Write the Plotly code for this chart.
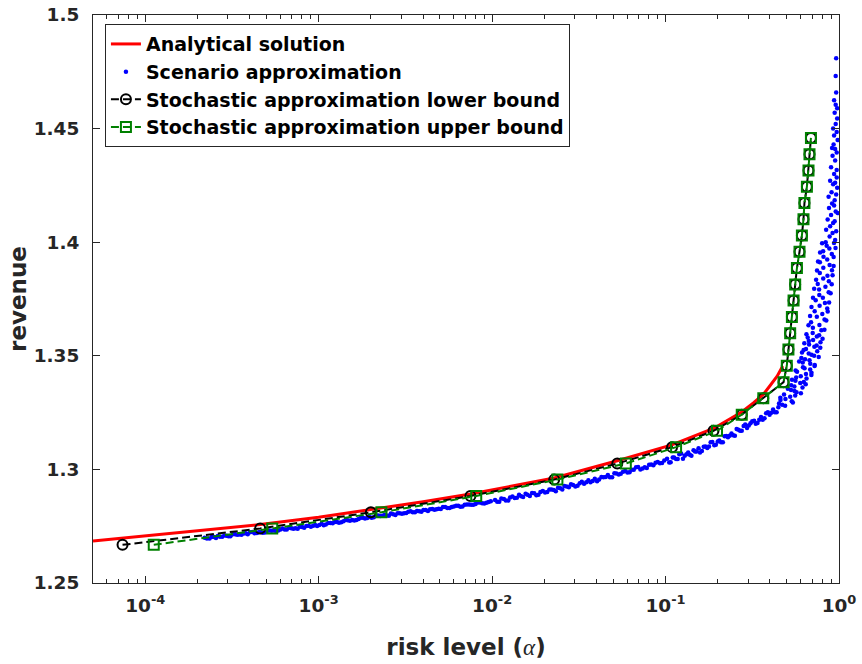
import math
import plotly.graph_objects as go

# ---------------- data ----------------
# Analytical solution (red curve)
ana_alpha = [5e-5, 1e-4, 2e-4, 4.6e-4, 1.0e-3, 2.0e-3, 4.0e-3, 7.5e-3, 0.0228, 0.0527,
             0.1087, 0.189, 0.275, 0.321, 0.366, 0.40, 0.44, 0.474]
ana_rev = [1.2685, 1.2707, 1.2729, 1.2757, 1.2789, 1.2822, 1.2858, 1.2892, 1.2962, 1.3038,
           1.3108, 1.3180, 1.3253, 1.3293, 1.3330, 1.3368, 1.3410, 1.3455]

# Stochastic approximation bounds (same revenue levels)
bound_rev = [1.2668, 1.2740, 1.2811, 1.2883, 1.2955, 1.3026, 1.3098, 1.3170, 1.3241, 1.3313,
             1.3384, 1.3456, 1.3528, 1.3599, 1.3671, 1.3743, 1.3814, 1.3886, 1.3958, 1.4029,
             1.4101, 1.4172, 1.4244, 1.4316, 1.4387, 1.4459]
lb_alpha = [7.4e-5, 4.6e-4, 2.0e-3, 7.5e-3, 0.0228, 0.0527, 0.109, 0.189, 0.275, 0.366,
            0.479, 0.500, 0.511, 0.523, 0.535, 0.547, 0.559, 0.572, 0.592, 0.611,
            0.624, 0.632, 0.653, 0.667, 0.676, 0.689]
ub_alpha = [1.12e-4, 5.4e-4, 2.3e-3, 8.1e-3, 0.0238, 0.059, 0.115, 0.198, 0.275, 0.366,
            0.479, 0.500, 0.511, 0.523, 0.535, 0.547, 0.559, 0.572, 0.592, 0.611,
            0.624, 0.632, 0.653, 0.667, 0.676, 0.689]

# Scenario approximation (blue dots) in pieces
scen_alpha_a = [2.2e-4, 2.35e-4, 2.5e-4, 2.62e-4, 2.78e-4, 2.95e-4, 3.1e-4, 3.3e-4, 3.48e-4, 3.7e-4,
                3.9e-4, 4.15e-4, 4.4e-4, 4.62e-4, 4.9e-4, 5.2e-4, 5.5e-4, 5.85e-4, 6.2e-4, 6.55e-4,
                6.95e-4, 7.35e-4, 7.8e-4, 8.25e-4, 8.75e-4, 9.3e-4, 9.8e-4, 1.04e-3, 1.1e-3, 1.17e-3,
                1.24e-3, 1.31e-3, 1.39e-3, 1.47e-3, 1.56e-3, 1.65e-3, 1.75e-3, 1.85e-3, 1.96e-3, 2.08e-3,
                2.2e-3, 2.33e-3, 2.47e-3, 2.61e-3, 2.77e-3, 2.93e-3, 3.11e-3, 3.29e-3, 3.49e-3, 3.69e-3,
                3.91e-3, 4.14e-3, 4.39e-3, 4.65e-3, 4.92e-3, 5.21e-3, 5.52e-3, 5.85e-3, 6.2e-3, 6.56e-3,
                6.95e-3, 7.37e-3, 7.8e-3, 8.27e-3, 8.76e-3, 9.28e-3, 9.83e-3]
scen_rev_a = [1.2699, 1.2696, 1.2703, 1.2707, 1.2704, 1.2708, 1.2706, 1.2715, 1.2713, 1.2718,
              1.2715, 1.2725, 1.2720, 1.2725, 1.2722, 1.2731, 1.2731, 1.2731, 1.2740, 1.2735,
              1.2741, 1.2741, 1.2748, 1.2743, 1.2752, 1.2752, 1.2751, 1.2761, 1.2758, 1.2764,
              1.2769, 1.2765, 1.2772, 1.2776, 1.2777, 1.2777, 1.2787, 1.2784, 1.2790, 1.2789,
              1.2797, 1.2796, 1.2797, 1.2806, 1.2799, 1.2807, 1.2807, 1.2814, 1.2811, 1.2817,
              1.2814, 1.2821, 1.2825, 1.2822, 1.2827, 1.2834, 1.2830, 1.2834, 1.2840, 1.2836,
              1.2844, 1.2846, 1.2844, 1.2854, 1.2851, 1.2853, 1.2860]
scen_alpha_a2 = [2.27e-4, 2.42e-4, 2.56e-4, 2.70e-4, 2.86e-4, 3.02e-4, 3.2e-4, 3.39e-4, 3.59e-4, 3.8e-4,
                 4.02e-4, 4.27e-4, 4.51e-4, 4.76e-4, 5.05e-4, 5.35e-4, 5.67e-4, 6.02e-4, 6.37e-4, 6.75e-4,
                 7.15e-4, 7.57e-4, 8.02e-4, 8.5e-4, 9.02e-4, 9.55e-4, 1.01e-3, 1.07e-3, 1.135e-3, 1.205e-3,
                 1.275e-3, 1.35e-3, 1.43e-3, 1.515e-3, 1.605e-3, 1.70e-3, 1.80e-3, 1.905e-3, 2.02e-3, 2.14e-3,
                 2.265e-3, 2.40e-3, 2.54e-3, 2.69e-3, 2.85e-3, 3.02e-3, 3.2e-3, 3.39e-3, 3.59e-3, 3.8e-3,
                 4.02e-3, 4.265e-3, 4.52e-3, 4.78e-3, 5.06e-3, 5.36e-3, 5.68e-3, 6.02e-3, 6.38e-3, 6.75e-3,
                 7.16e-3, 7.58e-3, 8.03e-3, 8.51e-3, 9.02e-3, 9.55e-3]
scen_rev_a2 = [1.2696, 1.2703, 1.2698, 1.2704, 1.2709, 1.2706, 1.2715, 1.2712, 1.2712, 1.2719,
               1.2723, 1.2719, 1.2723, 1.2721, 1.2730, 1.2730, 1.2729, 1.2736, 1.2736, 1.2743,
               1.2739, 1.2739, 1.2747, 1.2751, 1.2748, 1.2755, 1.2755, 1.2754, 1.2764, 1.2763,
               1.2769, 1.2767, 1.2777, 1.2774, 1.2775, 1.2782, 1.2787, 1.2786, 1.2787, 1.2797,
               1.2795, 1.2799, 1.2796, 1.2803, 1.2807, 1.2805, 1.2808, 1.2816, 1.2811, 1.2816,
               1.2821, 1.2817, 1.2826, 1.2825, 1.2826, 1.2835, 1.2830, 1.2837, 1.2840, 1.2837,
               1.2846, 1.2844, 1.2848, 1.2854, 1.2850, 1.2857]

scen_alpha_b = [1.04e-2, 1.10e-2, 1.17e-2, 1.24e-2, 1.31e-2, 1.39e-2, 1.47e-2, 1.56e-2, 1.65e-2, 1.75e-2,
                1.85e-2, 1.96e-2, 2.08e-2, 2.20e-2, 2.33e-2, 2.47e-2, 2.61e-2, 2.77e-2, 2.93e-2, 3.11e-2,
                3.29e-2, 3.49e-2, 3.69e-2, 3.91e-2, 4.14e-2, 4.39e-2, 4.65e-2, 4.92e-2, 5.21e-2, 5.52e-2,
                5.85e-2, 6.20e-2, 6.56e-2, 6.95e-2, 7.37e-2, 7.80e-2, 8.27e-2, 8.76e-2, 9.28e-2, 9.83e-2]
scen_rev_b = [1.2865, 1.2858, 1.2870, 1.2863, 1.2881, 1.2875, 1.2882, 1.2893, 1.2883, 1.2895,
              1.2888, 1.2905, 1.2901, 1.2911, 1.2904, 1.2917, 1.2927, 1.2921, 1.2931, 1.2928,
              1.2946, 1.2943, 1.2943, 1.2959, 1.2955, 1.2965, 1.2975, 1.2965, 1.2982, 1.2981,
              1.2993, 1.2987, 1.2999, 1.3011, 1.3004, 1.3006, 1.3022, 1.3029, 1.3027, 1.3039]
scen_alpha_b2 = [1.07e-2, 1.13e-2, 1.20e-2, 1.27e-2, 1.35e-2, 1.43e-2, 1.51e-2, 1.60e-2, 1.70e-2, 1.80e-2,
                 1.90e-2, 2.02e-2, 2.14e-2, 2.27e-2, 2.40e-2, 2.54e-2, 2.69e-2, 2.85e-2, 3.02e-2, 3.20e-2,
                 3.39e-2, 3.59e-2, 3.80e-2, 4.03e-2, 4.27e-2, 4.52e-2, 4.78e-2, 5.07e-2, 5.37e-2, 5.69e-2,
                 6.03e-2, 6.38e-2, 6.76e-2, 7.16e-2, 7.59e-2, 8.04e-2, 8.51e-2, 9.02e-2, 9.55e-2]
scen_rev_b2 = [1.2858, 1.2872, 1.2863, 1.2876, 1.2874, 1.2888, 1.2878, 1.2888, 1.2896, 1.2886,
               1.2901, 1.2898, 1.2912, 1.2909, 1.2919, 1.2912, 1.2925, 1.2935, 1.2925, 1.2939,
               1.2937, 1.2952, 1.2949, 1.2948, 1.2966, 1.2967, 1.2965, 1.2983, 1.2978, 1.2990,
               1.2986, 1.2998, 1.3009, 1.3000, 1.3010, 1.3021, 1.3018, 1.3033, 1.3028]

scen_alpha_c = [0.102, 0.107, 0.112, 0.1175, 0.123, 0.129, 0.135, 0.141, 0.148, 0.155,
                0.162, 0.170, 0.178, 0.186, 0.195, 0.204, 0.214, 0.224, 0.234, 0.245,
                0.257, 0.269, 0.282, 0.295, 0.309, 0.324, 0.339, 0.355, 0.372, 0.389,
                0.407, 0.427, 0.447]
scen_rev_c = [1.3047, 1.3032, 1.3052, 1.3046, 1.3070, 1.3060, 1.3074, 1.3060, 1.3079, 1.3093,
              1.3081, 1.3101, 1.3101, 1.3121, 1.3108, 1.3127, 1.3120, 1.3147, 1.3148, 1.3150,
              1.3178, 1.3170, 1.3191, 1.3182, 1.3203, 1.3214, 1.3204, 1.3231, 1.3225, 1.3252,
              1.3249, 1.3252, 1.3274]
scen_alpha_c2 = [0.105, 0.110, 0.115, 0.120, 0.126, 0.132, 0.138, 0.145, 0.151, 0.158,
                 0.166, 0.174, 0.182, 0.191, 0.200, 0.209, 0.219, 0.229, 0.240, 0.251,
                 0.263, 0.275, 0.288, 0.302, 0.316, 0.331, 0.347, 0.363, 0.380, 0.398,
                 0.417, 0.437]
scen_rev_c2 = [1.3030, 1.3052, 1.3046, 1.3067, 1.3047, 1.3067, 1.3064, 1.3084, 1.3079, 1.3074,
               1.3100, 1.3094, 1.3119, 1.3106, 1.3123, 1.3119, 1.3146, 1.3142, 1.3158, 1.3148,
               1.3174, 1.3170, 1.3198, 1.3193, 1.3212, 1.3201, 1.3219, 1.3219, 1.3247, 1.3241,
               1.3264, 1.3252]

scen_alpha_d = [0.489, 0.451, 0.534, 0.491, 0.523, 0.482, 0.569, 0.529, 0.616, 0.530,
                0.598, 0.561, 0.650, 0.602, 0.645, 0.573, 0.682, 0.620, 0.725, 0.618,
                0.676, 0.607, 0.719, 0.669, 0.749, 0.645, 0.721, 0.672, 0.782, 0.709,
                0.660, 0.768, 0.705]
scen_rev_d = [1.3280, 1.3290, 1.3300, 1.3310, 1.3320, 1.3330, 1.3340, 1.3350, 1.3360, 1.3370,
              1.3380, 1.3390, 1.3400, 1.3410, 1.3420, 1.3430, 1.3440, 1.3450, 1.3460, 1.3470,
              1.3480, 1.3490, 1.3500, 1.3510, 1.3520, 1.3530, 1.3540, 1.3550, 1.3560, 1.3570,
              1.3580, 1.3590, 1.3600]
scen_alpha_d2 = [0.470, 0.460, 0.559, 0.554, 0.553, 0.627, 0.566, 0.694, 0.633, 0.683,
                 0.637, 0.694, 0.625, 0.743, 0.670, 0.745]
scen_rev_d2 = [1.3285, 1.3305, 1.3325, 1.3345, 1.3365, 1.3385, 1.3405, 1.3425, 1.3445, 1.3465,
               1.3485, 1.3505, 1.3525, 1.3545, 1.3565, 1.3585]

scen_alpha_e = [0.791, 0.707, 0.771, 0.690, 0.825, 0.745, 0.801, 0.724, 0.855, 0.773,
                0.830, 0.734, 0.807, 0.770, 0.872, 0.768, 0.835, 0.754, 0.874, 0.811,
                0.858, 0.775, 0.911, 0.812, 0.883, 0.776, 0.855, 0.814, 0.909, 0.810,
                0.880, 0.849, 0.936]
scen_rev_e = [1.3612, 1.3624, 1.3636, 1.3648, 1.3660, 1.3672, 1.3684, 1.3696, 1.3708, 1.3720,
              1.3732, 1.3744, 1.3756, 1.3768, 1.3780, 1.3792, 1.3804, 1.3816, 1.3828, 1.3840,
              1.3852, 1.3864, 1.3876, 1.3888, 1.3900, 1.3912, 1.3924, 1.3936, 1.3948, 1.3960,
              1.3972, 1.3984, 1.3996]

scen_alpha_g = [0.542, 0.459, 0.603, 0.507, 0.643, 0.536, 0.693, 0.562, 0.723, 0.589,
                0.764, 0.612, 0.780, 0.631, 0.804, 0.649, 0.824, 0.667, 0.845, 0.681,
                0.861, 0.694, 0.877, 0.708, 0.895, 0.719, 0.908, 0.738, 0.918, 0.747,
                0.931, 0.757, 0.931, 0.778, 0.955, 0.799]
scen_rev_g = [1.3295, 1.3315, 1.3335, 1.3355, 1.3375, 1.3395, 1.3415, 1.3435, 1.3455, 1.3475,
              1.3495, 1.3515, 1.3535, 1.3555, 1.3575, 1.3595, 1.3615, 1.3635, 1.3655, 1.3675,
              1.3695, 1.3715, 1.3735, 1.3755, 1.3775, 1.3795, 1.3815, 1.3835, 1.3855, 1.3875,
              1.3895, 1.3915, 1.3935, 1.3955, 1.3975, 1.3995]

scen_alpha_f = [0.963, 0.957, 0.963, 0.937, 0.957, 0.976, 0.944, 0.925, 0.970, 0.937,
                0.982, 0.931, 0.950, 0.970, 0.918, 0.950, 0.900, 0.937, 0.970, 0.889,
                0.925, 0.976, 0.906, 0.871, 0.944, 0.912, 0.876, 0.957, 0.900, 0.860,
                0.925, 0.889, 0.843, 0.918, 0.883, 0.950, 0.838,
                0.963, 0.944, 0.982, 0.937, 0.963, 0.950, 0.970, 0.912, 0.957, 0.976]
scen_rev_f = [1.4810, 1.4732, 1.4659, 1.4625, 1.4605, 1.4590, 1.4570, 1.4500, 1.4485, 1.4470,
              1.4450, 1.4430, 1.4410, 1.4395, 1.4380, 1.4360, 1.4330, 1.4300, 1.4285, 1.4270,
              1.4255, 1.4240, 1.4220, 1.4200, 1.4185, 1.4170, 1.4150, 1.4135, 1.4120, 1.4100,
              1.4085, 1.4070, 1.4055, 1.4040, 1.4025, 1.4010, 1.4000,
              1.4048, 1.4092, 1.4128, 1.4162, 1.4210, 1.4262, 1.4318, 1.4415, 1.4520, 1.4545]

x_tick_vals = [1e-4, 1e-3, 1e-2, 1e-1, 1]
x_tick_text = ["10<sup>-4</sup>", "10<sup>-3</sup>", "10<sup>-2</sup>", "10<sup>-1</sup>", "10<sup>0</sup>"]
y_tick_vals = [1.25, 1.3, 1.35, 1.4, 1.45, 1.5]
y_tick_text = ["1.25", "1.3", "1.35", "1.4", "1.45", "1.5"]
x_minor_vals = [m * 10.0 ** e for e in (-5, -4, -3, -2, -1) for m in range(2, 10) if m * 10.0 ** e >= 5e-5]

scen_alpha = (scen_alpha_a + scen_alpha_a2 + scen_alpha_b + scen_alpha_b2 + scen_alpha_c + scen_alpha_c2
              + scen_alpha_d + scen_alpha_d2 + scen_alpha_e + scen_alpha_g + scen_alpha_f)
scen_rev = (scen_rev_a + scen_rev_a2 + scen_rev_b + scen_rev_b2 + scen_rev_c + scen_rev_c2
            + scen_rev_d + scen_rev_d2 + scen_rev_e + scen_rev_g + scen_rev_f)

# ---------------- figure ----------------
FONT = "DejaVu Sans, Liberation Sans, sans-serif"
AX = "#262626"

fig = go.Figure()
fig.add_trace(go.Scatter(x=ana_alpha, y=ana_rev, mode="lines", name="Analytical solution",
                         line=dict(color="rgb(255,0,0)", width=3)))
fig.add_trace(go.Scatter(x=scen_alpha, y=scen_rev, mode="markers", name="Scenario approximation",
                         marker=dict(color="rgb(0,0,255)", size=4.5, line=dict(width=0))))
fig.add_trace(go.Scatter(x=lb_alpha, y=bound_rev, mode="lines+markers",
                         name="Stochastic approximation lower bound",
                         line=dict(color="black", width=2, dash="8px,4px"),
                         marker=dict(symbol="circle-open", size=10, color="black", line=dict(width=2))))
fig.add_trace(go.Scatter(x=ub_alpha, y=bound_rev, mode="lines+markers",
                         name="Stochastic approximation upper bound",
                         line=dict(color="rgb(0,128,0)", width=2, dash="8px,4px"),
                         marker=dict(symbol="square-open", size=10, color="rgb(0,128,0)",
                                     line=dict(width=2))))

fig.update_layout(
    width=862, height=664,
    margin=dict(l=93, r=23, t=15, b=81),
    paper_bgcolor="white", plot_bgcolor="white",
    font=dict(family=FONT, size=19, color=AX),
    hovermode=False,
    showlegend=True,
    legend=dict(x=0.016, y=0.984, xanchor="left", yanchor="top",
                bgcolor="white", bordercolor=AX, borderwidth=1,
                font=dict(family=FONT, size=19, color="black", weight="bold"),
                tracegroupgap=0, itemwidth=30),
    xaxis=dict(type="log", range=[math.log10(5e-5), 0], automargin=False,
               tickvals=x_tick_vals, ticktext=x_tick_text,
               ticks="inside", ticklen=7, tickwidth=1, tickcolor=AX, ticklabelstandoff=6,
               ticklabeloverflow="allow",
               showline=True, linecolor=AX, linewidth=1, mirror="allticks",
               showgrid=False, zeroline=False,
               tickfont=dict(family=FONT, size=18.5, color=AX, weight="bold"),
               minor=dict(tickvals=x_minor_vals, ticks="inside", ticklen=4, tickcolor=AX, showgrid=False),
               title=dict(text="<b>risk level (</b><span style='font-family:Liberation Serif'><i>α</i></span><b>)</b>",
                          font=dict(family=FONT, size=23, color=AX), standoff=23)),
    yaxis=dict(range=[1.25, 1.5], automargin=False,
               tickvals=y_tick_vals, ticktext=y_tick_text,
               ticks="inside", ticklen=7, tickwidth=1, tickcolor=AX, ticklabelstandoff=9,
               ticklabeloverflow="allow",
               showline=True, linecolor=AX, linewidth=1, mirror="allticks",
               showgrid=False, zeroline=False,
               tickfont=dict(family=FONT, size=18.5, color=AX, weight="bold"),
               title=dict(text="<b>revenue</b>", font=dict(family=FONT, size=23, color=AX), standoff=0)),
)

# remove the default 8px page margin so the figure fills the 862x664 window exactly
fig.write_html("out.html", config={"displayModeBar": False},
               post_script="document.body.style.margin='0px';")
